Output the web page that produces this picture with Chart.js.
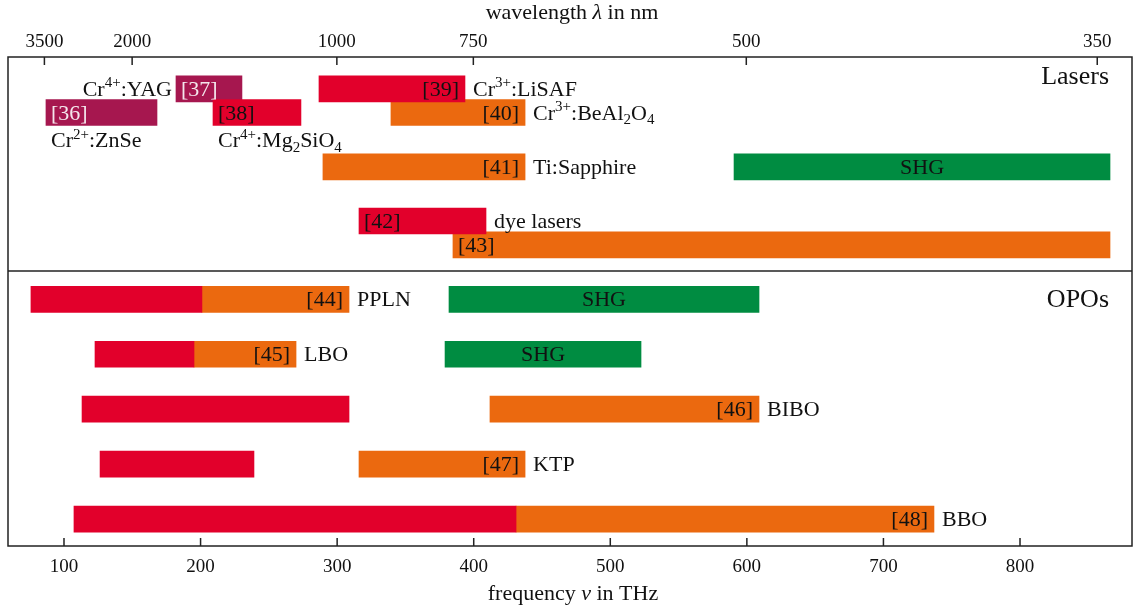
<!DOCTYPE html>
<html>
<head>
<meta charset="utf-8">
<script src="https://cdn.jsdelivr.net/npm/chart.js@4.4.0/dist/chart.umd.min.js"></script>
<style>
  body { margin: 0; background: #fff; }
  canvas { display: block; }
</style>
</head>
<body>
<canvas id="chart" width="1134" height="608"></canvas>
<script>
// tuning ranges in THz, one entry per bar segment
const segStart = [86.8, 182, 209.1, 286.7, 339.4, 289.6, 590.6, 316, 384.8,
                  75.8, 201, 381.9, 122.7, 195.2, 379, 113.2, 411.9, 126.4, 316, 107.3, 431];
const segEnd   = [168.1, 230.3, 273.5, 393.6, 437.6, 437.6, 865.9, 409, 865.9,
                  201, 308.7, 608.9, 195.2, 269.9, 522.5, 308.7, 608.9, 239.1, 437.6, 431, 737];
// row on the vertical axis (0 = top)
const segRow   = [1.01, 0.58, 1.01, 0.58, 1.01, 2.0, 2.0, 2.985, 3.42,
                  4.41, 4.41, 4.41, 5.41, 5.41, 5.41, 6.41, 6.41, 7.41, 7.41, 8.41, 8.41];
const segColor = ['purple', 'purple', 'red', 'red', 'orange', 'orange', 'green', 'red', 'orange',
                  'red', 'orange', 'green', 'red', 'orange', 'green', 'red', 'orange', 'red', 'orange', 'red', 'orange'];
// text inside each bar and where it sits
const segTag   = ['[36]', '[37]', '[38]', '[39]', '[40]', '[41]', 'SHG', '[42]', '[43]',
                  '', '[44]', 'SHG', '', '[45]', 'SHG', '', '[46]', '', '[47]', '', '[48]'];
const segTagAt = ['left', 'left', 'left', 'right', 'right', 'right', 'center', 'left', 'left',
                  '', 'right', 'center', '', 'right', 'center', '', 'right', '', 'right', '', 'right'];

// crystal names, attached to a segment
const nameText = ['Cr^{2+}:ZnSe', 'Cr^{4+}:YAG', 'Cr^{4+}:Mg_{2}SiO_{4}', 'Cr^{3+}:LiSAF',
                  'Cr^{3+}:BeAl_{2}O_{4}', 'Ti:Sapphire', 'dye lasers',
                  'PPLN', 'LBO', 'BIBO', 'KTP', 'BBO'];
const nameSeg  = [0, 1, 2, 3, 4, 5, 7, 10, 13, 16, 18, 20];
const namePlace = ['below', 'left', 'below', 'right', 'right', 'right', 'right',
                   'right', 'right', 'right', 'right', 'right'];

const sectionText = ['Lasers', 'OPOs'];
const sectionRow = [0.5, 4.55];
const separatorRow = 3.895;

const freqTicks = [100, 200, 300, 400, 500, 600, 700, 800];
const wavelengthTicks = [3500, 2000, 1000, 750, 500, 350];
const C_NM_THZ = 299792.458;

const palette = { red: '#e2002b', orange: '#eb690f', green: '#008c41', purple: '#a6174f' };
const FONT = '"Liberation Serif", "Times New Roman", serif';

const datasets = Object.keys(palette).map(key => ({
    data: segStart
        .map((s, i) => ({ x: [s, segEnd[i]], y: segRow[i], c: segColor[i] }))
        .filter(d => d.c === key),
    backgroundColor: palette[key],
    borderWidth: 0,
    barThickness: 26,
    grouped: false,
}));

// draws text with ^{..} superscripts, _{..} subscripts and $..$ italics
function drawRich(ctx, str, x, y, size, align, color) {
    const parts = [];
    const re = /\^\{([^}]*)\}|_\{([^}]*)\}|\$([^$]*)\$|([^^_$]+)/g;
    let m;
    while ((m = re.exec(str))) {
        if (m[1] !== undefined) parts.push({ t: m[1], s: 0.7, dy: -0.4 });
        else if (m[2] !== undefined) parts.push({ t: m[2], s: 0.7, dy: 0.22 });
        else if (m[3] !== undefined) parts.push({ t: m[3], s: 1, dy: 0, it: true });
        else parts.push({ t: m[4], s: 1, dy: 0 });
    }
    const fontOf = p => (p.it ? 'italic ' : '') + Math.round(size * p.s) + 'px ' + FONT;
    let w = 0;
    parts.forEach(p => { ctx.font = fontOf(p); p.w = ctx.measureText(p.t).width; w += p.w; });
    let cx = align === 'right' ? x - w : align === 'center' ? x - w / 2 : x;
    ctx.fillStyle = color;
    ctx.textAlign = 'left';
    ctx.textBaseline = 'alphabetic';
    parts.forEach(p => { ctx.font = fontOf(p); ctx.fillText(p.t, cx, y + p.dy * size); cx += p.w; });
}

const decorations = {
    id: 'decorations',
    afterDatasetsDraw(chart) {
        const { ctx, chartArea: area, scales } = chart;
        const xs = scales.x, ys = scales.y, xt = scales.x2;
        ctx.save();

        // frame and section separator
        ctx.strokeStyle = '#222';
        ctx.lineWidth = 1.5;
        ctx.strokeRect(area.left, area.top, area.right - area.left, area.bottom - area.top);
        const sy = ys.getPixelForValue(separatorRow);
        ctx.beginPath();
        ctx.moveTo(area.left, sy);
        ctx.lineTo(area.right, sy);
        ctx.stroke();

        // inward tick marks
        ctx.beginPath();
        xs.ticks.forEach(t => {
            const px = xs.getPixelForValue(t.value);
            ctx.moveTo(px, area.bottom);
            ctx.lineTo(px, area.bottom - 8);
        });
        xt.ticks.forEach(t => {
            const px = xt.getPixelForValue(t.value);
            ctx.moveTo(px, area.top);
            ctx.lineTo(px, area.top + 8);
        });
        ctx.stroke();

        // labels inside the bars
        const size = 22;
        segTag.forEach((tag, i) => {
            if (!tag) return;
            const x0 = xs.getPixelForValue(segStart[i]);
            const x1 = xs.getPixelForValue(segEnd[i]);
            const yb = ys.getPixelForValue(segRow[i]) + size * 0.32;
            const col = segColor[i] === 'purple' ? '#f4e6ec' : '#111';
            if (segTagAt[i] === 'left') drawRich(ctx, tag, x0 + 5, yb, size, 'left', col);
            else if (segTagAt[i] === 'right') drawRich(ctx, tag, x1 - 6, yb, size, 'right', col);
            else drawRich(ctx, tag, (x0 + x1) / 2, yb, size, 'center', col);
        });

        // crystal names
        nameText.forEach((txt, k) => {
            const i = nameSeg[k];
            const x0 = xs.getPixelForValue(segStart[i]);
            const x1 = xs.getPixelForValue(segEnd[i]);
            const yc = ys.getPixelForValue(segRow[i]);
            if (namePlace[k] === 'below') drawRich(ctx, txt, x0 + 5, yc + 35, size, 'left', '#111');
            else if (namePlace[k] === 'left') drawRich(ctx, txt, x0 - 4, yc + size * 0.32, size, 'right', '#111');
            else drawRich(ctx, txt, x1 + 8, yc + size * 0.32, size, 'left', '#111');
        });

        // section headings
        sectionText.forEach((txt, k) => {
            drawRich(ctx, txt, area.right - 23, ys.getPixelForValue(sectionRow[k]), 26, 'right', '#111');
        });

        // axis titles
        drawRich(ctx, 'wavelength $λ$ in nm', 572, area.top - 38, 22, 'center', '#111');
        drawRich(ctx, 'frequency $ν$ in THz', 573, area.bottom + 54, 22, 'center', '#111');

        ctx.restore();
    }
};

const tickFont = { family: FONT, size: 19 };

new Chart(document.getElementById('chart'), {
    type: 'bar',
    data: { datasets },
    options: {
        indexAxis: 'y',
        responsive: false,
        animation: false,
        layout: { padding: { left: 8, right: 2, top: 0, bottom: 0 } },
        plugins: { legend: { display: false }, tooltip: { enabled: false } },
        scales: {
            x: {
                type: 'linear', position: 'bottom', min: 59, max: 882,
                afterBuildTicks: s => { s.ticks = freqTicks.map(v => ({ value: v })); },
                afterFit: s => { s.height = 62; },
                grid: { display: false, drawTicks: false },
                border: { display: false },
                ticks: { padding: 10, color: '#111', font: tickFont, maxRotation: 0 }
            },
            x2: {
                type: 'linear', position: 'top', min: 59, max: 882,
                afterBuildTicks: s => { s.ticks = wavelengthTicks.map(w => ({ value: C_NM_THZ / w })); },
                afterFit: s => { s.height = 57; },
                grid: { display: false, drawTicks: false },
                border: { display: false },
                ticks: {
                    padding: 4, color: '#111', font: tickFont, maxRotation: 0,
                    callback: v => String(Math.round(C_NM_THZ / v))
                }
            },
            y: { type: 'linear', reverse: true, min: 0, max: 8.9, offset: false, display: false }
        }
    },
    plugins: [decorations]
});
</script>
</body>
</html>
